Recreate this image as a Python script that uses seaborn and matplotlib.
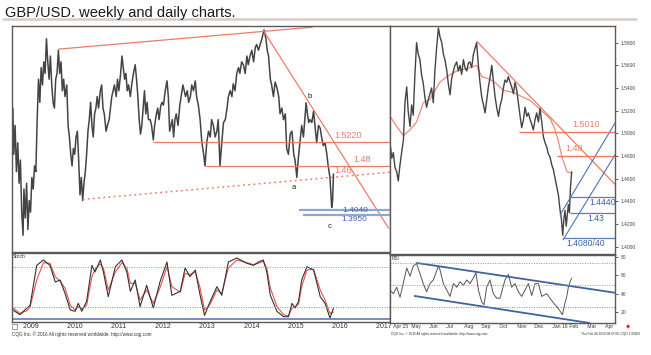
import numpy as np
import pandas as pd
import matplotlib
matplotlib.use("Agg")
import matplotlib.pyplot as plt
import seaborn as sns

# ---------------- weekly GBP/USD ----------------
wk_year = [2008.82, 2008.84, 2008.87, 2008.90, 2008.93, 2008.96, 2008.99, 2009.02, 2009.05, 2009.07,
           2009.10, 2009.13, 2009.16, 2009.19, 2009.22, 2009.25, 2009.28, 2009.31, 2009.34, 2009.37,
           2009.40, 2009.43, 2009.46, 2009.49, 2009.52, 2009.55, 2009.58, 2009.61, 2009.64, 2009.67,
           2009.70, 2009.73, 2009.76, 2009.79, 2009.82, 2009.85, 2009.88, 2009.91, 2009.94, 2009.97,
           2010.00, 2010.04, 2010.07, 2010.10, 2010.13, 2010.16, 2010.19, 2010.22, 2010.25, 2010.28,
           2010.31, 2010.34, 2010.37, 2010.40, 2010.43, 2010.46, 2010.49, 2010.52, 2010.55, 2010.58,
           2010.61, 2010.64, 2010.67, 2010.70, 2010.73, 2010.76, 2010.80, 2010.83, 2010.86, 2010.89,
           2010.93, 2010.96, 2011.00, 2011.03, 2011.06, 2011.09, 2011.12, 2011.16, 2011.19, 2011.22,
           2011.26, 2011.29, 2011.32, 2011.35, 2011.38, 2011.41, 2011.44, 2011.48, 2011.51, 2011.55,
           2011.59, 2011.62, 2011.65, 2011.68, 2011.71, 2011.74, 2011.77, 2011.80, 2011.83, 2011.86,
           2011.89, 2011.93, 2011.96, 2012.00, 2012.03, 2012.07, 2012.10, 2012.13, 2012.17, 2012.20,
           2012.23, 2012.27, 2012.31, 2012.34, 2012.37, 2012.40, 2012.43, 2012.46, 2012.49, 2012.52,
           2012.56, 2012.60, 2012.63, 2012.67, 2012.70, 2012.73, 2012.77, 2012.80, 2012.84, 2012.87,
           2012.91, 2012.95, 2012.98, 2013.02, 2013.06, 2013.10, 2013.14, 2013.17, 2013.21, 2013.25,
           2013.29, 2013.32, 2013.36, 2013.40, 2013.44, 2013.47, 2013.51, 2013.55, 2013.59, 2013.63,
           2013.67, 2013.70, 2013.74, 2013.78, 2013.81, 2013.85, 2013.89, 2013.93, 2013.96, 2014.00,
           2014.04, 2014.08, 2014.12, 2014.15, 2014.19, 2014.23, 2014.27, 2014.31, 2014.34, 2014.38,
           2014.42, 2014.46, 2014.49, 2014.51, 2014.55, 2014.58, 2014.61, 2014.65, 2014.68, 2014.72,
           2014.76, 2014.80, 2014.84, 2014.87, 2014.91, 2014.95, 2014.99, 2015.02, 2015.06, 2015.10,
           2015.14, 2015.18, 2015.21, 2015.25, 2015.28, 2015.32, 2015.36, 2015.40, 2015.43, 2015.46,
           2015.49, 2015.52, 2015.55, 2015.59, 2015.63, 2015.66, 2015.70, 2015.74, 2015.78, 2015.81,
           2015.85, 2015.89, 2015.93, 2015.96, 2016.00, 2016.04, 2016.06, 2016.08]
wk_px = [1.58, 1.50, 1.55, 1.47, 1.52, 1.45, 1.49, 1.40, 1.36, 1.44,
         1.39, 1.45, 1.37, 1.42, 1.40, 1.46, 1.44, 1.48, 1.47, 1.56,
         1.63, 1.59, 1.65, 1.62, 1.66, 1.64, 1.70, 1.66, 1.63, 1.67,
         1.62, 1.59, 1.58, 1.63, 1.64, 1.68, 1.64, 1.66, 1.61, 1.63,
         1.60, 1.62, 1.55, 1.53, 1.50, 1.48, 1.51, 1.50, 1.53, 1.54,
         1.49, 1.43, 1.46, 1.42, 1.45, 1.47, 1.50, 1.54, 1.56, 1.59,
         1.55, 1.53, 1.57, 1.58, 1.60, 1.58, 1.61, 1.62, 1.58, 1.57,
         1.54, 1.55, 1.56, 1.58, 1.60, 1.61, 1.62, 1.60, 1.63, 1.61,
         1.64, 1.67, 1.65, 1.63, 1.64, 1.61, 1.62, 1.60, 1.62, 1.64,
         1.655, 1.63, 1.60, 1.56, 1.535, 1.55, 1.58, 1.61, 1.57, 1.59,
         1.56, 1.56, 1.55, 1.525, 1.55, 1.57, 1.58, 1.56, 1.585, 1.59,
         1.585, 1.61, 1.627, 1.60, 1.54, 1.55, 1.56, 1.53, 1.56, 1.57,
         1.55, 1.585, 1.60, 1.62, 1.61, 1.60, 1.61, 1.59, 1.60, 1.62,
         1.61, 1.627, 1.60, 1.585, 1.56, 1.52, 1.50, 1.48, 1.52, 1.54,
         1.53, 1.56, 1.55, 1.53, 1.54, 1.56, 1.48, 1.52, 1.555, 1.56,
         1.58, 1.60, 1.61, 1.60, 1.622, 1.61, 1.64, 1.65, 1.64, 1.66,
         1.655, 1.64, 1.67, 1.655, 1.67, 1.68, 1.66, 1.685, 1.69, 1.68,
         1.69, 1.70, 1.71, 1.715, 1.70, 1.68, 1.67, 1.63, 1.62, 1.60,
         1.625, 1.615, 1.60, 1.57, 1.58, 1.56, 1.57, 1.51, 1.50, 1.535,
         1.54, 1.50, 1.49, 1.46, 1.49, 1.52, 1.55, 1.53, 1.56, 1.589,
         1.57, 1.555, 1.56, 1.555, 1.575, 1.55, 1.52, 1.55, 1.545, 1.53,
         1.515, 1.52, 1.50, 1.48, 1.46, 1.408, 1.42, 1.466]

# weekly stochastic (%K black, %D red)
st_year = [2008.82, 2008.98, 2009.14, 2009.21, 2009.36, 2009.51, 2009.66, 2009.78, 2009.89, 2010.00,
           2010.12, 2010.23, 2010.30, 2010.38, 2010.49, 2010.61, 2010.68, 2010.80, 2010.87, 2010.98,
           2011.14, 2011.29, 2011.40, 2011.48, 2011.59, 2011.70, 2011.85, 2012.00, 2012.15, 2012.31,
           2012.42, 2012.61, 2012.72, 2012.83, 2012.95, 2013.06, 2013.16, 2013.29, 2013.44, 2013.55,
           2013.70, 2013.89, 2014.12, 2014.27, 2014.38, 2014.49, 2014.57, 2014.65, 2014.80, 2014.95,
           2015.06, 2015.14, 2015.21, 2015.29, 2015.36, 2015.48, 2015.63, 2015.78, 2015.89, 2016.00,
           2016.08]
st_k = [15, 8, 18, 22, 82, 90, 82, 57, 60, 40,
        15, 13, 25, 13, 28, 82, 72, 90, 72, 35,
        80, 90, 72, 43, 60, 20, 52, 18, 57, 87,
        37, 43, 78, 65, 75, 37, 7, 28, 50, 37,
        87, 93, 85, 82, 87, 90, 72, 37, 13, 5,
        5, 25, 18, 28, 60, 80, 75, 35, 25, 3,
        18]
st_d = [18, 10, 14, 20, 60, 86, 85, 65, 58, 48,
        22, 15, 20, 17, 22, 65, 76, 84, 78, 45,
        72, 86, 78, 55, 55, 30, 45, 25, 48, 80,
        50, 42, 70, 68, 72, 48, 15, 24, 45, 40,
        78, 90, 86, 83, 85, 88, 78, 48, 20, 8,
        6, 18, 20, 24, 50, 75, 76, 45, 30, 10,
        12]

# weekly chart levels and trend lines
wk_levels_red = [1.5220, 1.48]
wk_levels_red_from = [2012.0, 2013.17]
wk_levels_blue = [1.4040, 1.3950]
wk_levels_blue_from = [2015.3, 2015.4]
wk_top_line_t = [2009.86, 2015.60]
wk_top_line_p = [1.682, 1.720]
wk_down_line_t = [2014.51, 2017.33]
wk_down_line_p = [1.712, 1.372]
wk_dot_line_t = [2010.40, 2017.36]
wk_dot_line_p = [1.422, 1.469]
years = [2009, 2010, 2011, 2012, 2013, 2014, 2015, 2016, 2017]

# ---------------- daily GBP/USD, x = months since 1 Apr 2015 ----------------
dy_m = [-0.10, -0.03, 0.06, 0.15, 0.25, 0.34, 0.42, 0.53, 0.63, 0.72,
        0.82, 0.90, 1.01, 1.10, 1.19, 1.28, 1.38, 1.47, 1.57, 1.66,
        1.76, 1.85, 1.95, 2.05, 2.14, 2.23, 2.33, 2.42, 2.52, 2.62,
        2.71, 2.81, 2.90, 2.99, 3.09, 3.18, 3.28, 3.37, 3.47, 3.56,
        3.66, 3.75, 3.85, 3.94, 4.04, 4.13, 4.23, 4.32, 4.41, 4.51,
        4.60, 4.70, 4.79, 4.89, 4.98, 5.08, 5.18, 5.27, 5.37, 5.46,
        5.56, 5.65, 5.75, 5.84, 5.94, 6.03, 6.13, 6.22, 6.31, 6.40,
        6.50, 6.59, 6.69, 6.78, 6.88, 6.97, 7.07, 7.16, 7.26, 7.35,
        7.45, 7.54, 7.64, 7.73, 7.83, 7.92, 8.01, 8.11, 8.20, 8.30,
        8.39, 8.49, 8.58, 8.67, 8.77, 8.86, 8.96, 9.06, 9.15, 9.25,
        9.34, 9.44, 9.53, 9.60, 9.68, 9.75, 9.81, 9.88, 9.94, 10.00,
        10.06, 10.12, 10.19]
dy_px = [1.488, 1.478, 1.483, 1.470, 1.466, 1.458, 1.470, 1.483, 1.494, 1.527,
         1.541, 1.520, 1.506, 1.525, 1.516, 1.550, 1.580, 1.570, 1.565, 1.552,
         1.544, 1.532, 1.523, 1.530, 1.535, 1.540, 1.527, 1.555, 1.576, 1.593,
         1.585, 1.580, 1.570, 1.565, 1.556, 1.544, 1.534, 1.548, 1.555, 1.560,
         1.563, 1.555, 1.560, 1.552, 1.565, 1.558, 1.555, 1.562, 1.563, 1.558,
         1.569, 1.575, 1.580, 1.560, 1.545, 1.532, 1.525, 1.518, 1.530, 1.541,
         1.550, 1.560, 1.545, 1.532, 1.522, 1.515, 1.525, 1.530, 1.540, 1.547,
         1.545, 1.550, 1.545, 1.541, 1.535, 1.545, 1.538, 1.527, 1.515, 1.505,
         1.512, 1.523, 1.515, 1.518, 1.512, 1.508, 1.503, 1.512, 1.518, 1.510,
         1.522, 1.510, 1.497, 1.492, 1.488, 1.482, 1.479, 1.472, 1.468, 1.460,
         1.453, 1.445, 1.432, 1.425, 1.410, 1.425, 1.432, 1.418, 1.428, 1.437,
         1.430, 1.452, 1.466]
ma_m = [-0.13, 0.30, 0.63, 1.00, 1.38, 1.76, 2.14, 2.70, 3.10, 3.66,
        4.23, 4.79, 5.08, 5.50, 5.90, 6.30, 6.90, 7.40, 7.83, 8.40,
        8.96, 9.20, 9.42, 9.64, 9.93, 10.19]
ma_px = [1.515, 1.505, 1.498, 1.503, 1.510, 1.527, 1.530, 1.545, 1.550, 1.555,
         1.557, 1.560, 1.550, 1.548, 1.544, 1.538, 1.536, 1.532, 1.529, 1.521,
         1.513, 1.505, 1.494, 1.479, 1.466, 1.465]

# daily RSI
rsi_m = [-0.13, 0.06, 0.25, 0.44, 0.63, 0.82, 1.01, 1.19, 1.38, 1.57,
         1.76, 1.95, 2.14, 2.33, 2.62, 2.71, 2.90, 3.09, 3.28, 3.47,
         3.66, 3.85, 4.04, 4.23, 4.41, 4.60, 4.75, 4.89, 5.08, 5.21,
         5.36, 5.55, 5.74, 5.93, 6.12, 6.40, 6.59, 6.78, 6.97, 7.16,
         7.35, 7.54, 7.73, 7.92, 8.11, 8.30, 8.49, 8.77, 8.96, 9.15,
         9.34, 9.53, 9.66, 9.81, 9.91, 10.00, 10.10, 10.19]
rsi_v = [44, 40, 47, 36, 52, 68, 59, 70, 73, 62,
         51, 42, 51, 55, 70, 66, 51, 44, 37, 51,
         47, 53, 49, 55, 51, 57, 63, 44, 31, 28,
         47, 55, 40, 35, 35, 55, 61, 47, 51, 42,
         37, 44, 51, 38, 51, 51, 37, 40, 35, 30,
         26, 21, 17, 30, 37, 47, 53, 57]

# daily chart levels and trend lines
dy_levels_red = [1.5010, 1.48]
dy_levels_red_from = [7.2, 9.36]
dy_levels_blue = [1.4440, 1.43, 1.4080]
dy_levels_blue_from = [10.1, 10.1, 9.7]
dy_down_line_m = [4.81, 12.65]
dy_down_line_p = [1.581, 1.455]
dy_fan1_m = [9.53, 12.65]
dy_fan1_p = [1.428, 1.509]
dy_fan2_m = [9.70, 12.65]
dy_fan2_p = [1.406, 1.481]
rsi_up_m = [1.40, 12.65]
rsi_up_v = [73.5, 41]
rsi_lo_m = [1.27, 11.2]
rsi_lo_v = [37.5, 8]
months = ["Apr 15", "May", "Jun", "Jul", "Aug", "Sep", "Oct", "Nov", "Dec", "Jan 16", "Feb", "Mar", "Apr"]
dy_yticks = [1.40, 1.42, 1.44, 1.46, 1.48, 1.50, 1.52, 1.54, 1.56, 1.58]

# ---------------- styling ----------------
sns.set_style("white")
plt.rcParams["font.family"] = ["Liberation Sans", "DejaVu Sans"]

RED = "#f07a68"
BLUE_L = "#8ea8cc"
BLUE_T = "#3f62a0"
PRICE = "#444444"
FRAME = "#5a5a5a"

W, H = 651, 355
fig = plt.figure(figsize=(W / 100, H / 100), dpi=100)


def rect(x0, y0, x1, y1):
    return [x0 / W, 1 - y1 / H, (x1 - x0) / W, (y1 - y0) / H]


ax_w = fig.add_axes(rect(12, 26, 390, 252))
ax_s = fig.add_axes(rect(12, 253, 390, 322))
ax_d = fig.add_axes(rect(390, 26, 615, 254))
ax_r = fig.add_axes(rect(390, 255, 615, 323))

for ax in (ax_w, ax_s, ax_d, ax_r):
    for sp in ax.spines.values():
        sp.set_color(FRAME)
        sp.set_linewidth(1.0)

# ---- weekly price ----
sns.lineplot(x=wk_year, y=wk_px, ax=ax_w, color=PRICE, lw=1.1)
ax_w.plot(wk_top_line_t, wk_top_line_p, color=RED, lw=0.9)
ax_w.plot(wk_down_line_t, wk_down_line_p, color=RED, lw=0.9)
ax_w.plot(wk_dot_line_t, wk_dot_line_p, color=RED, lw=1.1, ls=(0, (1.2, 2.2)))
for lev, x0 in zip(wk_levels_red, wk_levels_red_from):
    ax_w.hlines(lev, x0, 2017.36, color=RED, lw=0.9)
for lev, x0 in zip(wk_levels_blue, wk_levels_blue_from):
    ax_w.hlines(lev, x0, 2017.36, color=BLUE_L, lw=1.6)
ax_w.text(2016.10, 1.5245, "1.5220", color=RED, fontsize=6.5, va="bottom")
ax_w.text(2016.52, 1.4825, "1.48", color=RED, fontsize=6.5, va="bottom")
ax_w.text(2016.10, 1.4640, "1.46", color=RED, fontsize=6.5, va="bottom")
ax_w.text(2016.27, 1.4032, "1.4040", color=BLUE_T, fontsize=6.0, va="center")
ax_w.text(2016.25, 1.3875, "1.3950", color=BLUE_T, fontsize=6.0, va="center")
ax_w.text(2015.17, 1.443, "a", fontsize=5.5, color="#222", ha="center", va="center")
ax_w.text(2015.55, 1.600, "b", fontsize=5.5, color="#222", ha="center", va="center")
ax_w.text(2016.00, 1.375, "c", fontsize=5.5, color="#222", ha="center", va="center")
ax_w.set_xlim(2008.80, 2017.36)
ax_w.set_ylim(1.331, 1.722)
ax_w.set_yticks(np.arange(1.35, 1.71, 0.05))
ax_w.set_xticks([])
ax_w.tick_params(axis="y", direction="in", length=2, width=0.6, colors=FRAME, labelleft=False)
ax_w.set_xlabel("")
ax_w.set_ylabel("")

# ---- weekly stochastic ----
sns.lineplot(x=st_year, y=st_d, ax=ax_s, color="#f0504a", lw=0.8)
sns.lineplot(x=st_year, y=st_k, ax=ax_s, color="#333333", lw=0.8)
ax_s.axhline(80, color="#f07070", lw=0.7, ls=(0, (1, 1.5)))
ax_s.axhline(20, color="#7080e0", lw=0.7, ls=(0, (1, 1.5)))
ax_s.axhline(1.5, color="#6b86b8", lw=1.3)
ax_s.set_xlim(2008.80, 2017.36)
ax_s.set_ylim(-3, 100.5)
ax_s.set_yticks([0, 20, 40, 60, 80, 100])
ax_s.tick_params(axis="y", direction="in", length=2, width=0.6, colors=FRAME, labelleft=False)
ax_s.set_xticks(years)
ax_s.set_xticklabels([" " + str(y) for y in years], ha="left")
ax_s.tick_params(axis="x", direction="out", length=4.5, width=0.7, pad=-4.0, labelsize=5, colors="#333")
ax_s.text(0.003, 0.98, "Stoch", transform=ax_s.transAxes, fontsize=3.6, color="#333", va="top")
ax_s.set_xlabel("")
ax_s.set_ylabel("")

# ---- daily price ----
sns.lineplot(x=ma_m, y=ma_px, ax=ax_d, color="#f08a78", lw=0.9)
sns.lineplot(x=dy_m, y=dy_px, ax=ax_d, color=PRICE, lw=1.0)
ax_d.plot(dy_down_line_m, dy_down_line_p, color=RED, lw=0.9)
ax_d.plot(dy_fan1_m, dy_fan1_p, color="#4d74b8", lw=0.8)
ax_d.plot(dy_fan2_m, dy_fan2_p, color="#4d74b8", lw=0.8)
for lev, x0 in zip(dy_levels_red, dy_levels_red_from):
    ax_d.hlines(lev, x0, 12.65, color=RED, lw=1.0)
for lev, x0 in zip(dy_levels_blue, dy_levels_blue_from):
    ax_d.hlines(lev, x0, 12.65, color="#5a7db8", lw=0.9)
ax_d.text(10.2, 1.5035, "1.5010", color=RED, fontsize=6.5, va="bottom")
ax_d.text(9.85, 1.4825, "1.48", color=RED, fontsize=6.5, va="bottom")
ax_d.text(11.2, 1.4425, "1.4440", color=BLUE_T, fontsize=6.2, va="top")
ax_d.text(11.1, 1.4285, "1.43", color=BLUE_T, fontsize=6.2, va="top")
ax_d.text(9.9, 1.4065, "1.4080/40", color=BLUE_T, fontsize=6.2, va="top")
ax_d.set_xlim(-0.13, 12.65)
ax_d.set_ylim(1.3935, 1.5947)
ax_d.set_xticks([])
ax_d.yaxis.tick_right()
ax_d.set_yticks(dy_yticks)
ax_d.set_yticklabels([f"{v:.4f}" for v in dy_yticks])
ax_d.tick_params(axis="y", direction="out", length=2, width=0.6, pad=2, labelsize=3.5, colors="#444")
ax_d.set_xlabel("")
ax_d.set_ylabel("")

# ---- daily RSI ----
sns.lineplot(x=rsi_m, y=rsi_v, ax=ax_r, color="#555555", lw=0.7)
ax_r.plot(rsi_up_m, rsi_up_v, color=BLUE_T, lw=1.3)
ax_r.plot(rsi_lo_m, rsi_lo_v, color=BLUE_T, lw=1.3)
ax_r.axhline(74, color="#f07070", lw=0.7, ls=(0, (1, 1.5)))
ax_r.axhline(50, color="#999999", lw=0.7, ls=(0, (1, 1.5)))
ax_r.axhline(25, color="#7080e0", lw=0.7, ls=(0, (1, 1.5)))
ax_r.set_xlim(-0.13, 12.65)
ax_r.set_ylim(8, 82.2)
ax_r.yaxis.tick_right()
ax_r.set_yticks([20, 40, 60, 80])
ax_r.tick_params(axis="y", direction="out", length=2, width=0.6, pad=2, labelsize=3.5, colors="#444")
ax_r.set_xticks(range(len(months)))
ax_r.set_xticklabels([" " + m for m in months], ha="left")
ax_r.tick_params(axis="x", direction="out", length=4, width=0.5, pad=-3.5, labelsize=3.6, colors="#333")
ax_r.text(0.005, 0.98, "RSI", transform=ax_r.transAxes, fontsize=3.4, color="#333", va="top")
ax_r.set_xlabel("")
ax_r.set_ylabel("")

# ---- title, rule and footers ----
fig.text(5 / W, 1 - 13 / H, "GBP/USD. weekly and daily charts.", fontsize=10.5, color="#1a1a1a", va="center")
fig.add_artist(plt.Line2D([3 / W, 636 / W], [1 - 18.5 / H] * 2, color="#d6ccc5", lw=1.8))
fig.add_artist(plt.Rectangle((12 / W, 1 - 329 / H), 5 / W, 5 / H, fill=False, ec="#777", lw=0.5))
fig.text(12 / W, 1 - 334.5 / H, "CQG Inc. \u00a9 2016 All rights reserved worldwide. http://www.cqg.com",
         fontsize=3.3, color="#333", va="center")
fig.text(391 / W, 1 - 334.5 / H, "CQG Inc. \u00a9 2016 All rights reserved worldwide. http://www.cqg.com",
         fontsize=2.3, color="#333", va="center")
fig.text(640 / W, 1 - 334.5 / H, "Thu Feb 04 2016 08:07:00, CQG 1.00000",
         fontsize=2.3, color="#333", va="center", ha="right")
fig.text(628 / W, 1 - 327 / H, "\u25c6", fontsize=4, color="#e83030", va="center", ha="center")

fig.savefig("out.png", dpi=100)
